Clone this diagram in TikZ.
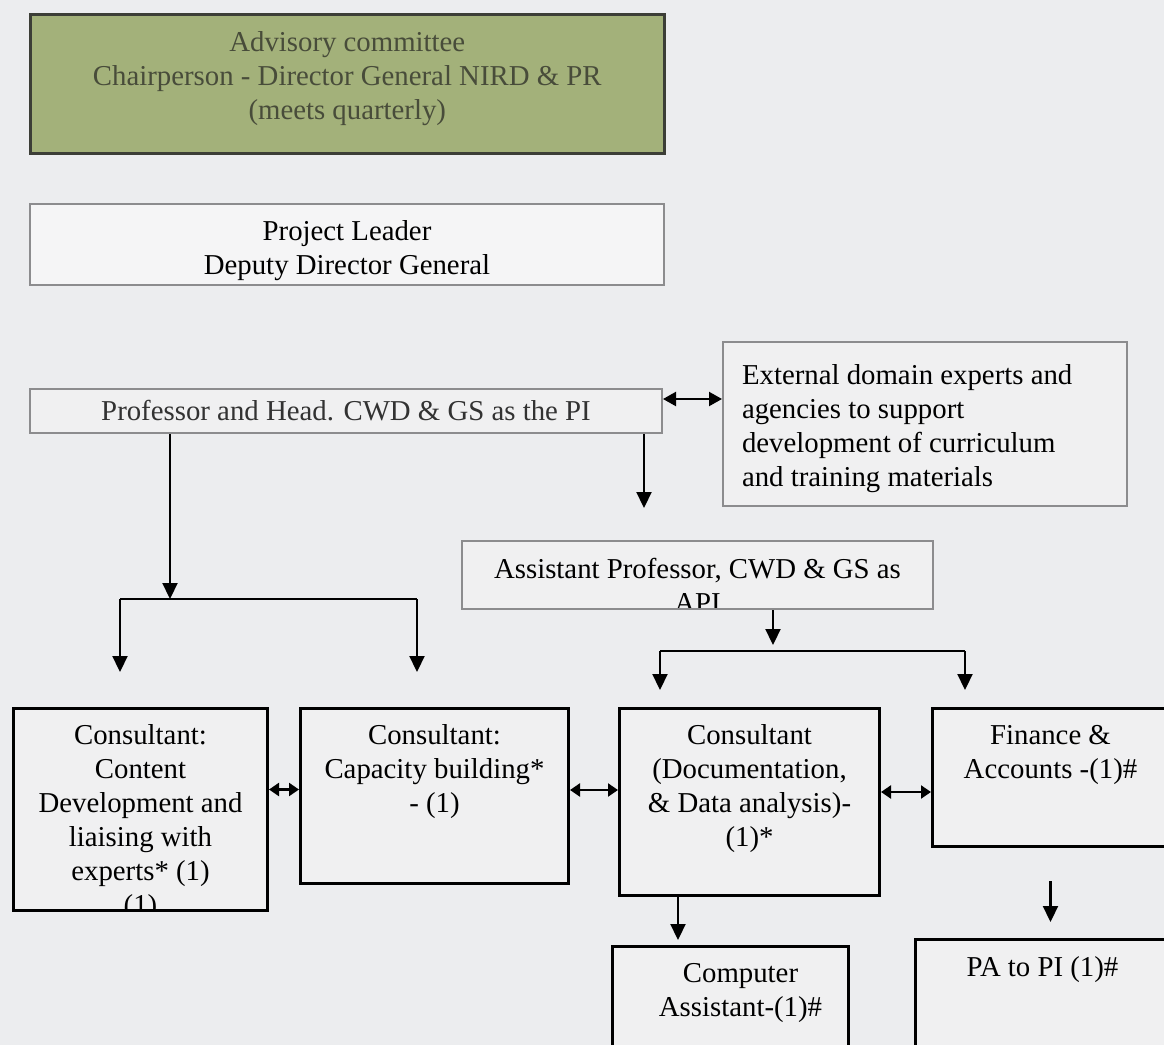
\documentclass[tikz,border=0pt]{standalone}
\usepackage{fontspec}
\setmainfont{Liberation Serif}
\usetikzlibrary{arrows.meta}
\definecolor{pagebg}{RGB}{236,237,239}
\definecolor{boxbg}{RGB}{240,240,241}
\definecolor{leadbg}{RGB}{245,245,246}
\definecolor{advgreen}{RGB}{163,177,122}
\definecolor{advink}{RGB}{72,76,58}
\definecolor{advedge}{RGB}{60,62,55}
\definecolor{edgegrey}{RGB}{140,140,142}
\definecolor{profink}{RGB}{50,50,50}
\newcommand{\orgfont}{\fontsize{14.4}{17}\selectfont}

\begin{document}
\begin{tikzpicture}[x=0.5pt, y=-0.5pt, font=\orgfont,
every node/.style={inner sep=0pt},
thinbox/.style={draw=edgegrey, line width=1pt, fill=boxbg, anchor=north west, align=center},
thickbox/.style={draw=black, line width=1.5pt, fill=boxbg, anchor=north west},
boxtext/.style={anchor=north, align=center, font=\orgfont, minimum width=0pt, minimum height=0pt},
arr/.style={line width=1.1pt, -{Triangle[length=8pt,width=7.5pt]}},
dblarr/.style={line width=1.1pt, {Triangle[length=6.5pt,width=7pt]}-{Triangle[length=6.5pt,width=7pt]}},
smalldbl/.style={line width=1.1pt, {Triangle[length=5pt,width=6.5pt]}-{Triangle[length=5pt,width=6.5pt]}}]

\path[use as bounding box] (0,0) rectangle (1164,1045);
\fill[pagebg] (0,0) rectangle (1164,1045);
\clip (0,0) rectangle (1164,1045);

%upper part: committee, leader, PI
\node[thinbox, draw=advedge, line width=1.3pt, fill=advgreen, minimum width=317pt, minimum height=69.5pt,
	path picture={\node[boxtext, text=advink] (advtext) at ([yshift=-8pt]path picture bounding box.north)
	{Advisory committee\\ Chairperson - Director General NIRD \& PR\\ (meets quarterly)};}] (adv) at (29,13) {};
\node[thinbox, fill=leadbg, minimum width=317pt, minimum height=40.5pt,
	path picture={\node[boxtext] (leadtext) at ([yshift=-8pt]path picture bounding box.north)
	{Project Leader\\ Deputy Director General};}] (lead) at (29,203) {};
\node[thinbox, text=profink, minimum width=316pt, minimum height=22pt] (prof) at (29,388)
	{Professor and Head. CWD \& GS as the PI};
\node[thinbox, minimum width=202pt, minimum height=82pt,
	path picture={\node[boxtext, anchor=north west, align=left] (exttext) at ([xshift=9pt, yshift=-11pt]path picture bounding box.north west)
	{External domain experts and\\ agencies to support\\ development of curriculum\\ and training materials};}] (ext) at (722,341) {};
\node[thinbox, minimum width=235.5pt, minimum height=34pt,
	path picture={\node[boxtext] (asttext) at ([yshift=-8pt]path picture bounding box.north)
	{Assistant Professor, CWD \& GS as\\ API};}] (asst) at (461,540) {};

%staff boxes, text starts at the top and is cut by the border
\node[thickbox, minimum width=127pt, minimum height=101pt,
	path picture={\node[boxtext] (cdtext) at ([yshift=-7.5pt]path picture bounding box.north)
	{Consultant:\\ Content\\ Development and\\ liaising with\\ experts* (1)\\ (1)};}] (cd) at (12,707) {};
\node[thickbox, minimum width=134pt, minimum height=87.5pt,
	path picture={\node[boxtext] (cbtext) at ([yshift=-7.5pt]path picture bounding box.north)
	{Consultant:\\ Capacity building*\\ - (1)};}] (cb) at (299,707) {};
\node[thickbox, minimum width=130pt, minimum height=93.5pt,
	path picture={\node[boxtext] (doctext) at ([yshift=-7.5pt]path picture bounding box.north)
	{Consultant\\ (Documentation,\\ \& Data analysis)-\\ (1)*};}] (doc) at (618,707) {};
\node[thickbox, minimum width=118pt, minimum height=69pt,
	path picture={\node[boxtext] (fintext) at ([yshift=-7.5pt]path picture bounding box.north)
	{Finance \&\\ Accounts -(1)\#};}] (fin) at (931,707) {};
\node[thickbox, minimum width=118pt, minimum height=60pt,
	path picture={\node[boxtext] (comptext) at ([xshift=5pt, yshift=-7.5pt]path picture bounding box.north)
	{Computer\\ Assistant-(1)\#};}] (comp) at (611,945) {};
\node[thickbox, minimum width=127pt, minimum height=65pt,
	path picture={\node[boxtext] (patext) at ([yshift=-8pt]path picture bounding box.north)
	{PA to PI (1)\#};}] (pa) at (914,938) {};

%split points of the two brackets
\coordinate (lsplit) at (170,599);
\coordinate (lleft) at (120,599);
\coordinate (lright) at (417,599);
\coordinate (rsplit) at (773,645);
\coordinate (rleft) at (660,651);
\coordinate (rright) at (965,651);

%connectors
\draw[dblarr] ([yshift=6pt]prof.east) -- ([yshift=6pt]prof.east -| ext.west);
\draw[arr, shorten >=16pt] ([xshift=-9.5pt]prof.south east) -- ([xshift=-9.5pt]prof.south east |- asst.north);
\draw[arr] (lsplit |- prof.south) -- (lsplit);
\draw[line width=1.1pt] (lleft) -- (lright);
\draw[arr, shorten >=17.5pt] (lleft) -- (lleft |- cd.north);
\draw[arr, shorten >=17.5pt] (lright) -- (lright |- cb.north);
\draw[arr] (rsplit |- asst.south) -- (rsplit);
\draw[line width=1.1pt] (rleft) -- (rright);
\draw[arr, shorten >=8.5pt] (rleft) -- (rleft |- doc.north);
\draw[arr, shorten >=8.5pt] (rright) -- (rright |- fin.north);
\draw[smalldbl] ([yshift=10pt]cd.east) -- ([yshift=10pt]cd.east -| cb.west);
\draw[smalldbl] ([yshift=3pt]cb.east) -- ([yshift=3pt]cb.east -| doc.west);
\draw[smalldbl] ([yshift=5pt]doc.east) -- ([yshift=5pt]doc.east -| fin.west);
\draw[arr, shorten >=2.5pt] ([xshift=30pt]doc.south west) -- ([xshift=30pt]doc.south west |- comp.north);
\draw[arr, shorten <=16.5pt, shorten >=8pt] (fin.south) -- (fin.south |- pa.north);
\end{tikzpicture}
\end{document}
